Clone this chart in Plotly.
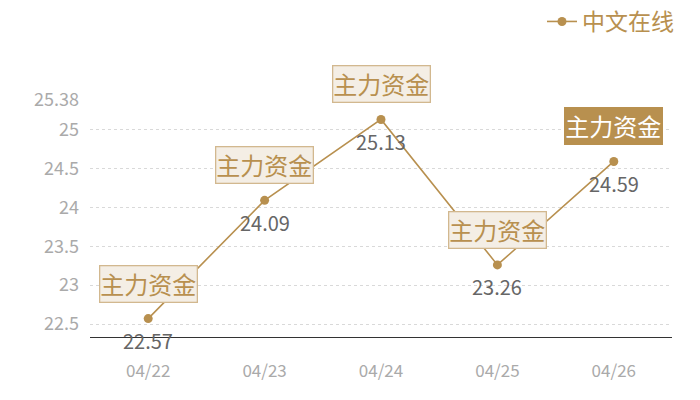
import plotly.graph_objects as go

dates = ["04/22", "04/23", "04/24", "04/25", "04/26"]
values = [22.57, 24.09, 25.13, 23.26, 24.59]
series_name = "中文在线"
mark_label = "主力资金"
y_ticks = [22.5, 23, 23.5, 24, 24.5, 25, 25.38]
y_min = 22.333
y_max = 25.38

GOLD = "#b8904f"
FONT = "Noto Sans CJK SC"

fig = go.Figure()
fig.add_trace(go.Scatter(
    x=dates, y=values, mode="lines+markers", name=series_name,
    line=dict(color=GOLD, width=1.6),
    marker=dict(color=GOLD, size=9),
    cliponaxis=False,
))

annotations = []
for i, (d, v) in enumerate(zip(dates, values)):
    annotations.append(dict(
        x=d, y=v, text=f"{v:.2f}", showarrow=False, yshift=-22,
        font=dict(family=FONT, size=20, color="#666666"),
    ))
    last = i == len(dates) - 1
    annotations.append(dict(
        x=d, y=v, text=mark_label, showarrow=False, yshift=35,
        font=dict(family=FONT, size=24, color="#ffffff" if last else GOLD),
        bgcolor=GOLD if last else "#f4eee5",
        bordercolor=GOLD if last else "#d2b88f",
        borderwidth=1.3, borderpad=0,
    ))

fig.update_layout(
    width=700, height=400,
    margin=dict(l=90, r=28, t=100, b=63, autoexpand=False),
    paper_bgcolor="white", plot_bgcolor="white",
    font=dict(family=FONT),
    showlegend=True,
    legend=dict(
        xref="container", yref="container",
        x=0.97, y=1.0, xanchor="right", yanchor="top",
        font=dict(family=FONT, size=23, color=GOLD),
        itemwidth=30, bgcolor="rgba(0,0,0,0)",
    ),
    annotations=annotations,
)
fig.update_xaxes(
    type="category", range=[-0.5, 4.5],
    showgrid=False, showline=True, linecolor="#333333", linewidth=1,
    ticks="", ticklabelstandoff=19,
    tickfont=dict(family=FONT, size=17, color="#aaaaaa"),
    zeroline=False,
)
fig.update_yaxes(
    range=[y_min, y_max], tickvals=y_ticks,
    ticktext=[f"{t:g}" for t in y_ticks],
    showgrid=True, gridcolor="#d9d9d9", griddash="3px,3px", gridwidth=1,
    showline=False, zeroline=False, ticks="", ticklabelstandoff=10,
    tickfont=dict(family=FONT, size=18, color="#aaaaaa"),
)

fig.write_html("out.html", config={"displayModeBar": False},
               post_script="document.body.style.margin='0';")
